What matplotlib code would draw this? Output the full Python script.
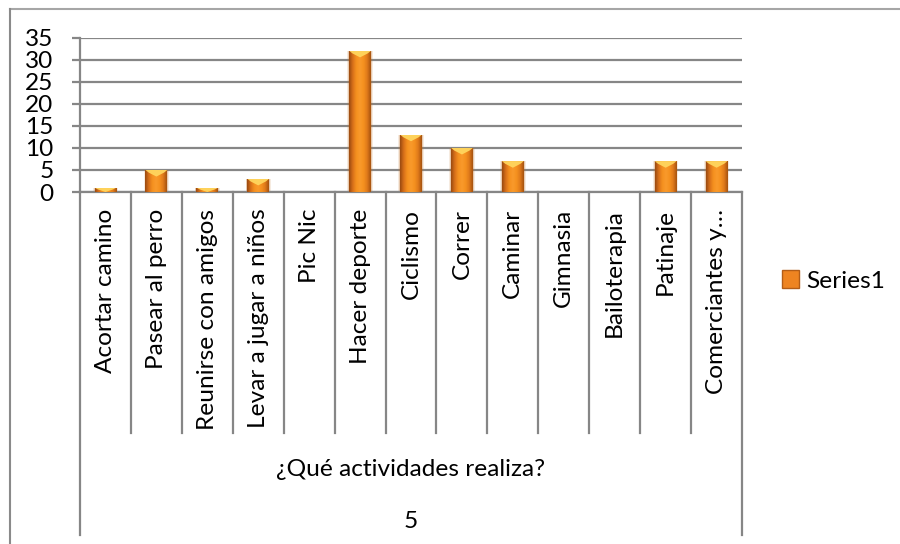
import numpy as np
import matplotlib
matplotlib.use("Agg")
import matplotlib.pyplot as plt
from matplotlib.colors import LinearSegmentedColormap
from matplotlib.transforms import blended_transform_factory
from matplotlib.patches import Polygon, Patch
from matplotlib.lines import Line2D

# Survey answers: counts per activity
categories = [
    "Acortar camino", "Pasear al perro", "Reunirse con amigos",
    "Levar a jugar a niños", "Pic Nic", "Hacer deporte", "Ciclismo",
    "Correr", "Caminar", "Gimnasia", "Bailoterapia", "Patinaje",
    "Comerciantes y…",
]
values = [1, 5, 1, 3, 0, 32, 13, 10, 7, 0, 0, 7, 7]
y_ticks = [0, 5, 10, 15, 20, 25, 30, 35]
group_label = "¿Qué actividades realiza?"
outer_label = "5"
series_name = "Series1"

plt.rcParams["font.family"] = ["Lato", "DejaVu Sans"]
GRID = "#868686"
FS = 17.6

W, H = 900, 544
fig = plt.figure(figsize=(W / 100, H / 100), dpi=100)
ax_left, ax_right, ax_top, ax_zero = 80, 742, 37.5, 192
ax = fig.add_axes([ax_left / W, 1 - ax_zero / H,
                   (ax_right - ax_left) / W, (ax_zero - ax_top) / H])

x = np.arange(len(categories))
bar_w = 0.43

# soft glow behind the bars
ax.bar(x, values, width=bar_w + 0.07, color="#c87a30", alpha=0.15,
       zorder=2, linewidth=0)
ax.bar(x, values, width=bar_w + 0.035, color="#b8651f", alpha=0.25,
       zorder=2, linewidth=0)
bars = ax.bar(x, values, width=bar_w, facecolor="none", edgecolor="none",
              zorder=3)

cmap = LinearSegmentedColormap.from_list(
    "cyl", ["#9a4a10", "#d8701a", "#f5901f", "#f99a2c", "#f5911f",
            "#e07a1b", "#a5520f"])
grad = np.linspace(0, 1, 64).reshape(1, -1)
for rect, v in zip(bars, values):
    if v <= 0:
        continue
    x0, y0 = rect.get_x(), rect.get_y()
    w, h = rect.get_width(), rect.get_height()
    ax.add_patch(rect)
    im = ax.imshow(grad, extent=[x0, x0 + w, y0, y0 + h], aspect="auto",
                   cmap=cmap, zorder=3, interpolation="bicubic")
    im.set_clip_path(rect)
    # light bevel on the top face
    ch = min(1.5, h)
    tri = Polygon([(x0, y0 + h), (x0 + w, y0 + h),
                   (x0 + 0.85 * w, y0 + h - 0.4 * ch),
                   (x0 + 0.5 * w, y0 + h - ch),
                   (x0 + 0.15 * w, y0 + h - 0.4 * ch)],
                  closed=True, facecolor="#ffd65e", edgecolor="none",
                  alpha=0.95, zorder=4)
    ax.add_patch(tri)
    tri.set_clip_path(rect)

ax.set_xlim(-0.5, len(categories) - 0.5)
ax.set_ylim(0, 35)
ax.set_yticks(y_ticks)
ax.yaxis.grid(True, color=GRID, linewidth=1.6)
ax.set_axisbelow(True)
for s in ("top", "right"):
    ax.spines[s].set_visible(False)
for s in ("left", "bottom"):
    ax.spines[s].set_color(GRID)
    ax.spines[s].set_linewidth(1.6)
ax.tick_params(axis="y", length=6, width=1.6, color=GRID, pad=13,
               labelsize=FS, labelcolor="black")
ax.set_xticks(x)
ax.set_xticklabels(categories, rotation=90, va="top", ha="center",
                   fontsize=FS)
ax.tick_params(axis="x", length=0, pad=12)

# multi-level category dividers
tr = blended_transform_factory(ax.transData, fig.transFigure)
y_axis_fig = 1 - ax_zero / H
for k in range(len(categories) + 1):
    xb = k - 0.5
    bottom = 535 if k in (0, len(categories)) else 433
    ax.add_line(Line2D([xb, xb], [y_axis_fig, 1 - bottom / H], transform=tr,
                       color=GRID, linewidth=1.6, clip_on=False))

cx = (ax_left + ax_right) / 2 / W
fig.text(cx, 1 - 470 / H, group_label, ha="center", va="center", fontsize=FS)
fig.text(cx, 1 - 522 / H, outer_label, ha="center", va="center", fontsize=FS)

handle = Patch(facecolor="#ee8421", edgecolor="#b35d17", linewidth=1)
ax.legend([handle], [series_name], loc="center left",
          bbox_to_anchor=(782 / W, 1 - 281 / H), bbox_transform=fig.transFigure,
          frameon=False, handlelength=0.7, handleheight=0.7,
          handletextpad=0.3, fontsize=FS, borderpad=0, borderaxespad=0)

# outer chart frame
fig.add_artist(Line2D([10 / W, 1], [1 - 9 / H, 1 - 9 / H],
                      transform=fig.transFigure, color="#a6a6a6", linewidth=1.5))
fig.add_artist(Line2D([10 / W, 10 / W], [0, 1 - 9 / H],
                      transform=fig.transFigure, color="#8a8a8a", linewidth=1.5))

fig.savefig("out.png", dpi=100, facecolor="white")
